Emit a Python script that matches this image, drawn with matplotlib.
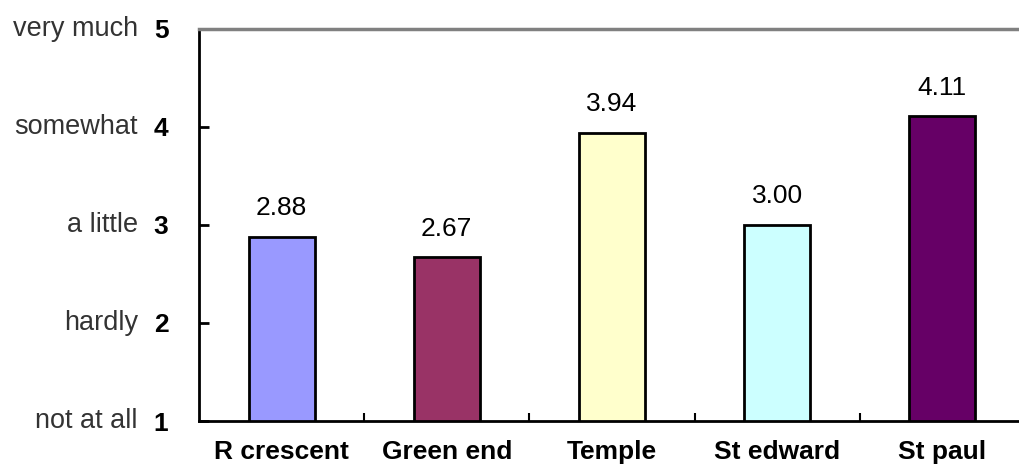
import matplotlib.pyplot as plt

plt.rcParams["font.family"] = ["Liberation Sans", "DejaVu Sans"]

sites = ["R crescent", "Green end", "Temple", "St edward", "St paul"]
scores = [2.88, 2.67, 3.94, 3.00, 4.11]
colors = ["#9999FF", "#993366", "#FFFFCC", "#CCFFFF", "#660066"]
levels = [1, 2, 3, 4, 5]
level_names = ["not at all", "hardly", "a little", "somewhat", "very much"]

fig = plt.figure(figsize=(10.19, 4.65), dpi=100)
ax = fig.add_axes([199 / 1019, 44 / 465, 826 / 1019, 392 / 465])

x = list(range(len(sites)))
heights = [s - 1 for s in scores]
ax.bar(x, heights, bottom=1, width=0.4, color=colors, edgecolor="black", linewidth=2, zorder=3)

for xi, s in zip(x, scores):
    ax.text(xi, s + 0.17, f"{s:.2f}", ha="center", va="bottom", fontsize=19)

ax.set_xlim(-0.5, len(sites) - 0.5)
ax.set_ylim(1, 5)

# y axis: bold numbers plus the verbal scale further left
ax.set_yticks(levels)
ax.set_yticklabels([str(v) for v in levels], fontsize=19, fontweight="bold")
ax.tick_params(axis="y", direction="in", length=7, width=2, pad=22)
for v, name in zip(levels, level_names):
    ax.annotate(name, xy=(0, v), xycoords=("axes fraction", "data"),
                xytext=(-44, 0), textcoords="offset points",
                ha="right", va="center", fontsize=19.5, color="#333333")

# x axis: labels at categories, tick marks between them
ax.set_xticks(x)
ax.set_xticklabels(sites, fontsize=19, fontweight="bold")
ax.tick_params(axis="x", length=0, pad=14)
ax.set_xticks([i + 0.5 for i in x[:-1]], minor=True)
ax.tick_params(axis="x", which="minor", direction="in", length=6, width=1.5)

ax.spines["right"].set_visible(False)
ax.spines["top"].set_color("#808080")
ax.spines["top"].set_linewidth(2.5)
ax.spines["left"].set_linewidth(2)
ax.spines["bottom"].set_linewidth(2)

fig.savefig("out.png", dpi=100)
